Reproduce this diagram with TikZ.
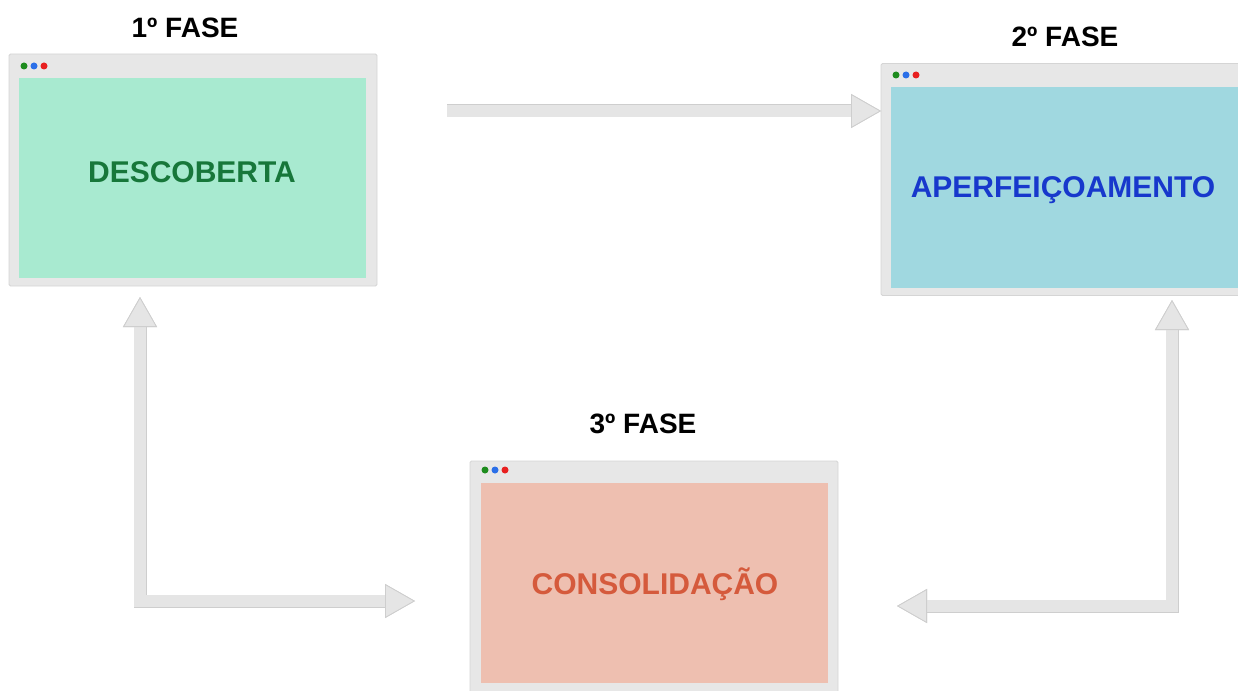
\documentclass[tikz,border=0pt]{standalone}
\usepackage{fontspec}
\setmainfont{Liberation Sans}
\usetikzlibrary{arrows.meta}

\definecolor{framegray}{HTML}{E7E7E7}
\definecolor{frameedge}{HTML}{D5D5D5}
\definecolor{arrowgray}{HTML}{E5E5E5}
\definecolor{arrowedge}{HTML}{CECECE}
\definecolor{scrgreen}{HTML}{A8EAD0}
\definecolor{scrblue}{HTML}{A0D8E0}
\definecolor{scrsalmon}{HTML}{EEBFB0}
\definecolor{txtgreen}{HTML}{17773A}
\definecolor{txtblue}{HTML}{1738CC}
\definecolor{txtsalmon}{HTML}{D55A3C}
\definecolor{dotgreen}{HTML}{1E8C1E}
\definecolor{dotblue}{HTML}{2B6FE8}
\definecolor{dotred}{HTML}{E82020}

\tikzset{
  winframe/.style={draw=frameedge, fill=framegray, line width=0.8pt,
    inner sep=0pt, outer sep=0pt, minimum width=368pt, minimum height=232pt,
    rounded corners=1.5pt},
  screen/.style={inner sep=0pt, outer sep=0pt,
    minimum width=347pt, minimum height=200pt},
  windot/.style={circle, inner sep=0pt, outer sep=0pt, minimum size=7pt},
  phase/.style={font=\bfseries\fontsize{28}{30}\selectfont, anchor=base},
  stage/.style={font=\bfseries\fontsize{30}{32}\selectfont, anchor=base},
  bigtip/.tip={Triangle[length=30pt,width=34pt,color=arrowedge,fill=arrowgray,line width=0.8pt]},
  flow/.style={draw=arrowgray, line width=11.5pt, line join=miter,
    preaction={draw=arrowedge, line width=13pt}},
}

\begin{document}
\begin{tikzpicture}[x=1pt,y=-1pt]
\useasboundingbox (0,0) rectangle (1238,690);

% window 1 : discovery
\node[winframe] (w1) at (193,170) {};
\node[screen, fill=scrgreen] (s1) at (192.5,178) {};
\node[windot, fill=dotgreen] (w1a) at (24,66) {};
\node[windot, fill=dotblue]  (w1b) at (34,66) {};
\node[windot, fill=dotred]   (w1c) at (44,66) {};
\node[stage, text=txtgreen] (t1) at (192,182) {DESCOBERTA};
\node[phase] (p1) at (185,38) {1º FASE};

% window 2 : refinement
\node[winframe] (w2) at (1065,179.5) {};
\node[screen, fill=scrblue] (s2) at (1064.5,187.5) {};
\node[windot, fill=dotgreen] (w2a) at (896,75) {};
\node[windot, fill=dotblue]  (w2b) at (906,75) {};
\node[windot, fill=dotred]   (w2c) at (916,75) {};
\node[stage, text=txtblue] (t2) at (1063,197) {APERFEIÇOAMENTO};
\node[phase] (p2) at (1065,47) {2º FASE};

% window 3 : consolidation
\node[winframe] (w3) at (654,577) {};
\node[screen, fill=scrsalmon] (s3) at (654,582.5) {};
\node[windot, fill=dotgreen] (w3a) at (485,470) {};
\node[windot, fill=dotblue]  (w3b) at (495,470) {};
\node[windot, fill=dotred]   (w3c) at (505,470) {};
\node[stage, text=txtsalmon] (t3) at (655,594) {CONSOLIDAÇÃO};
\node[phase] (p3) at (643,433) {3º FASE};

% connector end points
\coordinate (a1s) at (447,111);
\coordinate (a1e) at (881,111);
\coordinate (l1top) at (140,297);
\coordinate (l1bend) at (140,601);
\coordinate (l1end) at (415,601);
\coordinate (r1top) at (1172,300);
\coordinate (r1bend) at (1172,606);
\coordinate (r1end) at (897,606);

% flow arrows
\draw[flow, -bigtip] (a1s) -- (a1e);
\draw[flow, bigtip-bigtip] (l1top) -- (l1bend) -- (l1end);
\draw[flow, bigtip-bigtip] (r1top) -- (r1bend) -- (r1end);
\end{tikzpicture}
\end{document}
